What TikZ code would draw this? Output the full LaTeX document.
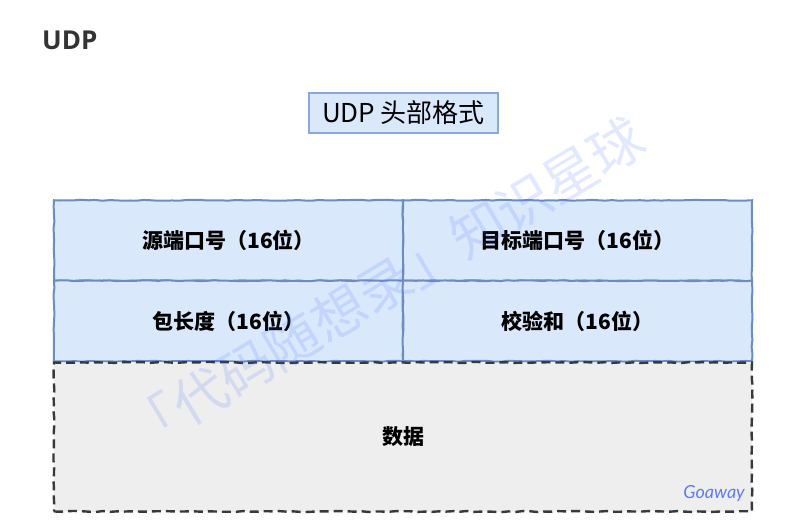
\documentclass[tikz,border=0pt]{standalone}
\usepackage{fontspec}
\setmainfont{Noto Sans CJK SC}
\newfontfamily\headfont{Open Sans}
\newfontfamily\sigfont{Lato}
\usetikzlibrary{decorations.pathmorphing}
\definecolor{cellfill}{HTML}{DAE8FC}
\definecolor{cellline}{HTML}{6C8EBF}
\definecolor{titleline}{HTML}{8AA8DC}
\definecolor{datafill}{HTML}{EEEEEE}
\definecolor{dataline}{HTML}{36393D}
\definecolor{sigblue}{HTML}{5A7CF5}
\definecolor{wmblue}{HTML}{3D6BFF}
\definecolor{headgray}{HTML}{333333}
\pgfmathsetseed{7}
\begin{document}
\begin{tikzpicture}[x=1pt,y=-1pt,
  sketch/.style={decorate, decoration={random steps, segment length=7pt, amplitude=0.5pt}},
  cell/.style={draw=cellline, fill=cellfill, line width=2pt, sketch,
    minimum width=349pt, minimum height=80.5pt, inner sep=0pt,
    font=\bfseries\fontsize{21}{25}\selectfont, text=black},
  databox/.style={draw=dataline, fill=datafill, line width=2.4pt, sketch,
    dash pattern=on 9pt off 5pt, minimum width=698pt, minimum height=149pt,
    inner sep=0pt, font=\bfseries\fontsize{21}{25}\selectfont, text=black},
  titlebox/.style={draw=titleline, fill=cellfill, line width=1.3pt,
    minimum width=189pt, minimum height=40pt, inner sep=0pt,
    font=\fontsize{26}{30}\selectfont, text=black},
]
\useasboundingbox (0,0) rectangle (791,526);
\fill[white] (0,0) rectangle (791,526);

\node[anchor=base west, font=\headfont\bfseries\fontsize{26}{30}\selectfont, text=headgray, inner sep=0pt] (head) at (42,50) {UDP};

\node[titlebox] (title) at (403.5,113) {UDP 头部格式};

\node[cell] (src) at (228.5,240.5) {源端口号（16位）};
\node[cell] (dst) at (577.5,240.5) {目标端口号（16位）};
\node[cell] (len) at (228.5,321) {包长度（16位）};
\node[cell] (chk) at (577.5,321) {校验和（16位）};

\node[databox] (data) at (403,437) {数据};

\node[anchor=south east, font=\sigfont\itshape\fontsize{18}{20}\selectfont, text=sigblue, inner sep=0pt] (sig) at (745,502) {Goaway};

\node[rotate=31, font=\fontsize{54}{60}\selectfont, text=wmblue, opacity=0.15, inner sep=0pt] (wm) at (385,285) {「代码随想录」知识星球};
\end{tikzpicture}
\end{document}
